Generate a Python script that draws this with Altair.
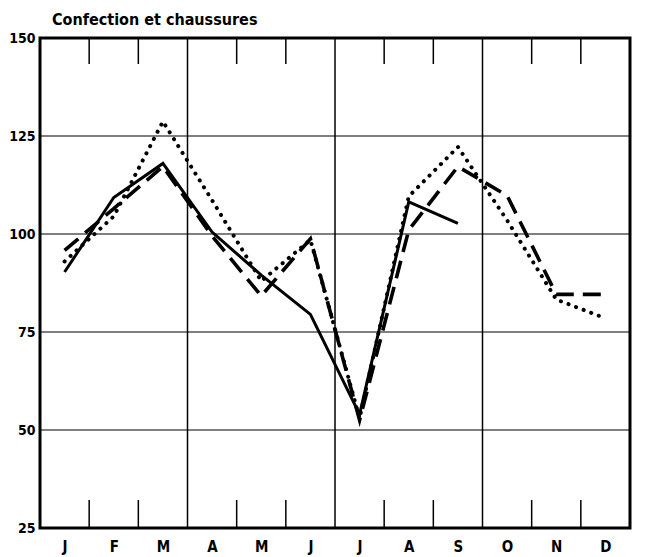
import altair as alt
import pandas as pd

# ---- data ----
months = ["J", "F", "M", "A", "M", "J", "J", "A", "S", "O", "N", "D"]
solid = [90.3, 109.3, 118.0, 100.5, 89.5, 79.5, 54.0, 108.2, 102.7, None, None, None]
dashed = [95.8, 106.5, 117.2, 99.5, 84.2, 98.8, 52.5, 101.0, 117.2, 109.8, 84.6, 84.6]
dotted = [93.0, 104.5, 128.7, 108.6, 88.0, 98.5, 53.0, 109.6, 122.2, 103.5, 83.3, 78.5]

y_ticks = [25, 50, 75, 100, 125, 150]
h_grid = [50, 75, 100, 125]
quarter_lines = [3, 6, 9]
month_ticks = [1, 2, 4, 5, 7, 8, 10, 11]

FONT = "DejaVu Sans Condensed, Liberation Sans Narrow, sans-serif"

rows = []
for name, vals in (("solid", solid), ("dashed", dashed), ("dotted", dotted)):
    for i, v in enumerate(vals):
        if v is not None:
            rows.append({"series": name, "pos": i + 0.5, "value": v})
df = pd.DataFrame(rows)

x_scale = alt.Scale(domain=[0, 12], nice=False, zero=False)
y_scale = alt.Scale(domain=[25, 150], nice=False, zero=False)

month_expr = "[" + ",".join("'" + m + "'" for m in months) + "][floor(datum.value)]"
x_axis = alt.Axis(values=[i + 0.5 for i in range(12)], labelExpr=month_expr,
                  ticks=False, domain=False, grid=False, title=None,
                  labelPadding=11, labelAngle=0, labelFontSize=15)
y_axis = alt.Axis(values=y_ticks, ticks=False, domain=False, grid=False,
                  title=None, labelPadding=5, format="d", labelFontSize=14)

hgrid = alt.Chart(pd.DataFrame({"v": h_grid})).mark_rule(
    color="black", strokeWidth=1.2).encode(
    y=alt.Y("v:Q", scale=y_scale, axis=y_axis))

vgrid = alt.Chart(pd.DataFrame({"m": quarter_lines})).mark_rule(
    color="black", strokeWidth=1.5).encode(
    x=alt.X("m:Q", scale=x_scale, axis=x_axis))

tick_df = pd.DataFrame({"m": month_ticks})
ticks_top = alt.Chart(tick_df).mark_rule(color="black", strokeWidth=1.5).encode(
    x=alt.X("m:Q", scale=x_scale, axis=x_axis),
    y=alt.value(0), y2=alt.value(26))
ticks_bottom = alt.Chart(tick_df).mark_rule(color="black", strokeWidth=1.5).encode(
    x=alt.X("m:Q", scale=x_scale, axis=x_axis),
    y=alt.value(462), y2=alt.value(490))


def line(name, **props):
    return alt.Chart(df).transform_filter(alt.datum.series == name).mark_line(
        color="black", **props).encode(
        x=alt.X("pos:Q", scale=x_scale, axis=x_axis),
        y=alt.Y("value:Q", scale=y_scale, axis=y_axis))


l_dotted = line("dotted", strokeWidth=4, strokeDash=[0.1, 8], strokeCap="round")
l_dashed = line("dashed", strokeWidth=3.6, strokeDash=[18, 9])
l_solid = line("solid", strokeWidth=3)

chart = alt.layer(hgrid, vgrid, ticks_top, ticks_bottom, l_dotted, l_dashed, l_solid).properties(
    width=590, height=490,
    autosize="none",
    padding={"left": 32, "top": 30, "right": 7, "bottom": 34},
    title=alt.TitleParams("Confection et chaussures", anchor="start", frame="group",
                          dx=12, offset=3, font=FONT, fontSize=16,
                          fontWeight="bold", color="black"),
).configure_view(stroke="black", strokeWidth=3).configure_axis(
    labelFont=FONT, labelFontWeight="bold", labelColor="black"
)

chart.save("out.html", embed_options={"renderer": "svg", "actions": False})
